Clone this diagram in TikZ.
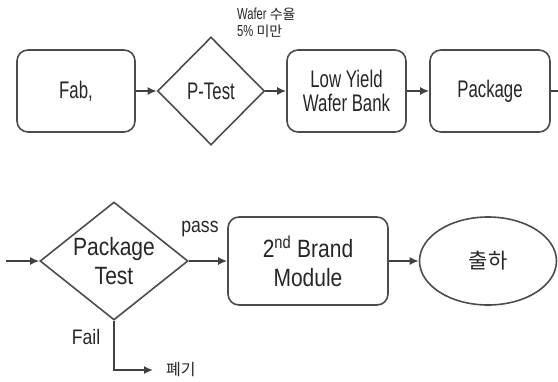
\documentclass[tikz,border=0pt]{standalone}
\usepackage{fontspec}
\setmainfont{Liberation Sans}[FakeStretch=0.84]
\newfontfamily\narrowfont{Liberation Sans}[FakeStretch=0.7]
\newfontfamily\kr{Noto Sans CJK KR}
\usetikzlibrary{shapes.geometric,arrows.meta}

\begin{document}
\begin{tikzpicture}[x=1pt,y=-1pt,
	box/.style={draw=black!70, line width=1.6pt, rounded corners=11pt, align=center, text=black!85},
	decision/.style={draw=black!70, line width=1.6pt, diamond, inner sep=0pt, align=center, text=black!85},
	toprow/.style={font=\narrowfont\fontsize{24}{24}\selectfont},
	lowrow/.style={font=\fontsize{25}{29}\selectfont},
	arr/.style={-{Latex[length=9pt,width=8pt]}, line width=1.6pt, draw=black!75}]
	\useasboundingbox (0,0) rectangle (558,381); %Área do desenho
		%Primeira linha
	\node[box, toprow, minimum width=118pt, minimum height=82pt] (fab) at (76,91) {Fab,}; %Fab
	\node[decision, toprow, minimum width=107pt, minimum height=108pt] (ptest) at (211,91) {P-Test}; %P-Test
	\node[box, toprow, minimum width=119pt, minimum height=82pt] (bank) at (346.5,91) {Low Yield\\Wafer Bank}; %Wafer Bank
	\node[box, toprow, minimum width=120pt, minimum height=82pt] (pkg) at (490,91) {Package}; %Package
	\node[anchor=north west, align=left, text=black!85, inner sep=0pt,
		font=\narrowfont\fontsize{16}{17}\selectfont] (yield) at (237,8)
		{Wafer {\kr\fontsize{14}{17}\selectfont 수율}\\5\% {\kr\fontsize{14}{17}\selectfont 미만}}; %Rótulo do P-Test
	\coordinate (outr) at (558,91);
	\draw[arr] (fab) -- (ptest);
	\draw[arr] (ptest) -- (bank);
	\draw[arr] (bank) -- (pkg);
	\draw[arr, -] (pkg) -- (outr);
		%Segunda linha
	\coordinate (inl) at (6,261);
	\node[decision, minimum width=148pt, minimum height=118pt] (pktest) at (114,261) {}; %Package Test
	\node[lowrow, align=center, text=black!85] (pktestlbl) at (114,261) {Package\\Test};
	\node[box, lowrow, minimum width=160pt, minimum height=88pt] (brand) at (308,261) {2\textsuperscript{nd} Brand\\Module}; %Módulo
	\node[ellipse, draw=black!70, line width=1.6pt, minimum width=137pt, minimum height=88pt, text=black!85,
		font=\kr\fontsize{21}{24}\selectfont] (ship) at (488,261) {출하}; %Saída
	\node[anchor=west, inner xsep=13pt, text=black!85, font=\kr\fontsize{16}{17}\selectfont] (scrap) at (153,370) {폐기}; %Descarte
	\node[text=black!85, font=\fontsize{21}{24}\selectfont] (pass) at (200,229) {pass};
	\node[text=black!85, font=\fontsize{21}{24}\selectfont] (fail) at (86,337) {Fail};
	\draw[arr] (inl) -- (pktest);
	\draw[arr] (pktest) -- (brand);
	\draw[arr] (brand) -- (ship);
	\draw[arr] (pktest.south) |- (scrap.west);
\end{tikzpicture}
\end{document}
